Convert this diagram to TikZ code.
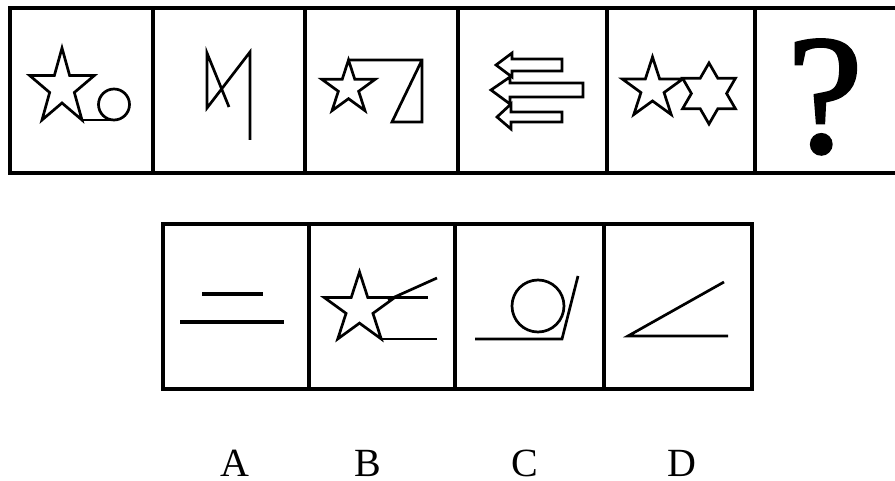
\documentclass[tikz,border=0pt]{standalone}
\usepackage{fontspec}
\setmainfont{Liberation Serif}
\newfontfamily\qfont[FakeBold=1.6]{Liberation Serif}
\newcommand\mystar[4]{% cx cy R yscale
  \draw[fig] ({#1},{#2-#4*#3})
    \foreach \k in {1,...,9}{ -- ({#1+#3*(1-0.618*mod(\k,2))*cos(-90+36*\k)},{#2+#4*#3*(1-0.618*mod(\k,2))*sin(-90+36*\k)})} -- cycle;}
\newcommand\myhex[3]{% cx cy R
  \draw[fig] ({#1},{#2-#3})
    \foreach \k in {1,...,11}{ -- ({#1+#3*(1-0.42265*mod(\k,2))*cos(-90+30*\k)},{#2+#3*(1-0.42265*mod(\k,2))*sin(-90+30*\k)})} -- cycle;}
\begin{document}
\begin{tikzpicture}[x=1pt,y=-1pt,
  frame/.style={line width=3.1pt},
  fig/.style={line width=2.7pt},
  lbl/.style={font=\fontsize{40}{40}\selectfont, inner sep=0pt, anchor=base}]
\useasboundingbox (0,0) rectangle (895,481);
\fill[white] (0,0) rectangle (895,481);
\clip (0,0) rectangle (895,481);
% top row
\draw[frame] (10,8) rectangle (910,173);
\foreach \x in {153,305,458,607,755} \draw[frame] (\x,8) -- (\x,173);
% cell 1
\mystar{62}{87.8}{34}{1.17}
\draw[fig] (82,120) -- (114,120);
\draw[fig] (114,104.5) circle (15.5);
% cell 2
\draw[fig] (229,107) -- (207,53) -- (207,108) -- (250,52) -- (250,140);
% cell 3
\mystar{348.5}{88}{28}{1}
\draw[fig] (348.5,60) -- (422,60) -- (422,122) -- (392,122) -- (421.5,61);
% cell 4
\draw[fig] (496,65) -- (512,53) -- (512,59) -- (562,59) -- (562,71) -- (512,71) -- (512,77) -- cycle;
\draw[fig] (491,90) -- (510,77) -- (510,83) -- (583,83) -- (583,97) -- (510,97) -- (510,104) -- cycle;
\draw[fig] (497,117) -- (511,104) -- (511,112) -- (562,112) -- (562,122) -- (511,122) -- (511,129) -- cycle;
% cell 5
\mystar{652.5}{88.8}{31.8}{1}
\myhex{709}{93.5}{30.5}
% cell 6
\node[inner sep=0pt, anchor=base, font=\qfont\fontsize{170}{170}\selectfont] (q) at (825,152) {?};
% bottom row
\draw[frame] (163,224) rectangle (752,389);
\foreach \x in {309,455,604} \draw[frame] (\x,224) -- (\x,389);
% A
\draw[fig, line width=3.1pt] (202,294) -- (263,294);
\draw[fig, line width=3.1pt] (180,322) -- (284,322);
% B
\mystar{359.5}{309}{37}{1}
\draw[fig] (394.7,297.6) -- (428,297.6);
\draw[fig] (381.2,338.9) -- (437,338.9);
\draw[fig] (388,300) -- (437,278);
% C
\draw[fig] (538,306) circle (26);
\draw[fig] (475,339) -- (562,339) -- (578,276);
% D
\draw[fig] (724,282) -- (628,336) -- (728,336);
% labels
\node[lbl] (la) at (235,476) {A};
\node[lbl] (lb) at (368,476) {B};
\node[lbl] (lc) at (525,476) {C};
\node[lbl] (ld) at (682,476) {D};
\end{tikzpicture}
\end{document}
